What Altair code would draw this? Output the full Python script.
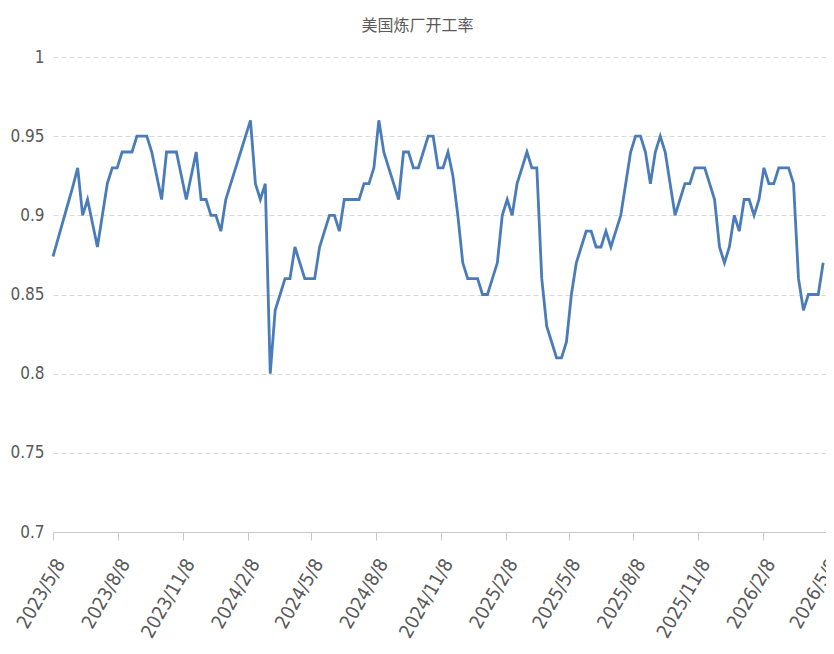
import altair as alt
import pandas as pd

title_text = "美国炼厂开工率"
start_date = "2023-05-08"

values = [
    0.874, 0.885, 0.896, 0.907, 0.918, 0.93, 0.90, 0.91, 0.895, 0.88,
    0.90, 0.92, 0.93, 0.93, 0.94, 0.94, 0.94, 0.95, 0.95, 0.95,
    0.94, 0.925, 0.91, 0.94, 0.94, 0.94, 0.925, 0.91, 0.925, 0.94,
    0.91, 0.91, 0.90, 0.90, 0.89, 0.91, 0.92, 0.93, 0.94, 0.95,
    0.96, 0.92, 0.91, 0.92, 0.80, 0.84, 0.85, 0.86, 0.86, 0.88,
    0.87, 0.86, 0.86, 0.86, 0.88, 0.89, 0.90, 0.90, 0.89, 0.91,
    0.91, 0.91, 0.91, 0.92, 0.92, 0.93, 0.96, 0.94, 0.93, 0.92,
    0.91, 0.94, 0.94, 0.93, 0.93, 0.94, 0.95, 0.95, 0.93, 0.93,
    0.94, 0.925, 0.90, 0.87, 0.86, 0.86, 0.86, 0.85, 0.85, 0.86,
    0.87, 0.90, 0.91, 0.90, 0.92, 0.93, 0.94, 0.93, 0.93, 0.86,
    0.83, 0.82, 0.81, 0.81, 0.82, 0.85, 0.87, 0.88, 0.89, 0.89,
    0.88, 0.88, 0.89, 0.88, 0.89, 0.90, 0.92, 0.94, 0.95, 0.95,
    0.94, 0.92, 0.94, 0.95, 0.94, 0.92, 0.90, 0.91, 0.92, 0.92,
    0.93, 0.93, 0.93, 0.92, 0.91, 0.88, 0.87, 0.88, 0.90, 0.89,
    0.91, 0.91, 0.90, 0.91, 0.93, 0.92, 0.92, 0.93, 0.93, 0.93,
    0.92, 0.86, 0.84, 0.85, 0.85, 0.85, 0.87,
]

tick_dates = [
    (2023, 5, 8), (2023, 8, 8), (2023, 11, 8), (2024, 2, 8), (2024, 5, 8),
    (2024, 8, 8), (2024, 11, 8), (2025, 2, 8), (2025, 5, 8), (2025, 8, 8),
    (2025, 11, 8), (2026, 2, 8), (2026, 5, 8),
]
y_ticks = [0.7, 0.75, 0.8, 0.85, 0.9, 0.95, 1.0]

dates = pd.date_range(start_date, periods=len(values), freq="7D")
df = pd.DataFrame({"date": dates, "v": values})

tick_vals = [alt.DateTime(year=y, month=m, date=d) for (y, m, d) in tick_dates]

gray = "#595959"
light = "#d9d9d9"
font = "DejaVu Sans Condensed"

chart = (
    alt.Chart(df)
    .mark_line(color="#4a7cb9", strokeWidth=2.8)
    .encode(
        x=alt.X(
            "date:T",
            title=None,
            scale=alt.Scale(domain=[tick_vals[0], tick_vals[-1]]),
            axis=alt.Axis(
                values=tick_vals,
                format="%Y/%-m/%-d",
                labelAngle=-60,
                labelFont=font,
                labelFontSize=19,
                labelColor=gray,
                grid=False,
                domainColor="#c8c8c8",
                tickColor="#c8c8c8",
                tickSize=8,
                labelPadding=20,
                labelOffset=7,
                labelOverlap=False,
                labelFlush=False,
            ),
        ),
        y=alt.Y(
            "v:Q",
            title=None,
            scale=alt.Scale(domain=[0.7, 1.0], nice=False, zero=False),
            axis=alt.Axis(
                values=y_ticks,
                format="~g",
                labelFont=font,
                labelFontSize=17,
                labelColor=gray,
                domain=False,
                ticks=False,
                labelPadding=9,
                gridColor=light,
                gridDash=[5, 3],
                gridWidth=1,
            ),
        ),
    )
    .properties(
        width=773,
        height=475,
        padding={"left": 45, "top": 49, "right": 0, "bottom": 114},
        autosize="none",
        title=alt.TitleParams(
            title_text,
            font="Noto Sans CJK SC",
            fontSize=16,
            fontWeight="normal",
            color=gray,
            offset=14,
            dx=-22,
        ),
    )
    .configure_view(stroke=None)
)

chart.save("out.html", embed_options={"renderer": "svg", "actions": False})
